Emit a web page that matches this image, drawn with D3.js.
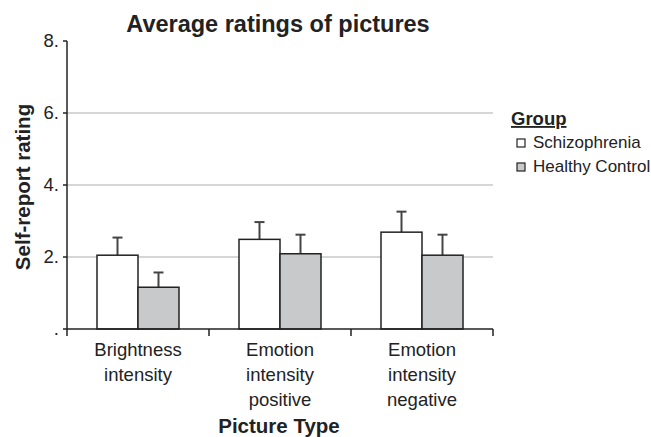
<!DOCTYPE html>
<html>
<head>
<meta charset="utf-8">
<script src="https://cdn.jsdelivr.net/npm/d3@7"></script>
<style>
  body { margin: 0; background: #fff; }
  text { font-family: "Liberation Sans", Arial, sans-serif; fill: #222; }
</style>
</head>
<body>
<svg width="651" height="437"></svg>
<script>
var categories = [['Brightness', 'intensity'], ['Emotion', 'intensity', 'positive'], ['Emotion', 'intensity', 'negative']];
var groups = ['Schizophrenia', 'Healthy Control'];
var schizMeans = [2.05, 2.49, 2.69];
var schizErr = [0.49, 0.48, 0.57];
var controlMeans = [1.16, 2.09, 2.05];
var controlErr = [0.41, 0.53, 0.57];
var yTicks = [0, 2, 4, 6, 8];
var tickLabels = ['.', '2.', '4.', '6.', '8.'];
var colors = ['#ffffff', '#c8c9cb'];

var svg = d3.select('svg');
var padding = { t: 41, l: 67, r: 158, b: 108 };
var chartWidth = +svg.attr('width') - padding.l - padding.r;
var chartHeight = +svg.attr('height') - padding.t - padding.b;

var chartG = svg.append('g')
    .attr('transform', 'translate(' + [padding.l, padding.t] + ')');

var xScale = d3.scaleBand()
    .domain(d3.range(categories.length))
    .range([0, chartWidth]);

var groupScale = d3.scaleBand()
    .domain(d3.range(groups.length))
    .range([0, 82])
    .padding(0);

var yScale = d3.scaleLinear()
    .domain([0, 8])
    .range([chartHeight, 0]);

// gridlines
chartG.selectAll('.grid')
    .data(yTicks.filter(function(d) { return d > 0 && d < 8; }))
    .enter().append('line')
    .attr('x1', 0)
    .attr('x2', chartWidth)
    .attr('y1', function(d) { return yScale(d); })
    .attr('y2', function(d) { return yScale(d); })
    .attr('stroke', '#c8c8c8')
    .attr('stroke-width', 1.5);

// bars
var rows = categories.map(function(c, i) {
    return [
        { cat: i, g: 0, value: schizMeans[i], err: schizErr[i] },
        { cat: i, g: 1, value: controlMeans[i], err: controlErr[i] }
    ];
});
var flat = [].concat.apply([], rows);
var offset = (xScale.bandwidth() - 82) / 2;

var barG = chartG.selectAll('.bar')
    .data(flat)
    .enter().append('g')
    .attr('class', 'bar');

function cx(d) { return xScale(d.cat) + offset + groupScale(d.g) + groupScale.bandwidth() / 2; }

// error bars first so the bar outline sits on top
barG.append('line')
    .attr('x1', cx)
    .attr('x2', cx)
    .attr('y1', function(d) { return yScale(d.value); })
    .attr('y2', function(d) { return yScale(d.value + d.err); })
    .attr('stroke', '#444')
    .attr('stroke-width', 2);

barG.append('line')
    .attr('x1', function(d) { return cx(d) - 5; })
    .attr('x2', function(d) { return cx(d) + 5; })
    .attr('y1', function(d) { return yScale(d.value + d.err); })
    .attr('y2', function(d) { return yScale(d.value + d.err); })
    .attr('stroke', '#444')
    .attr('stroke-width', 2);

barG.append('rect')
    .attr('x', function(d) { return xScale(d.cat) + offset + groupScale(d.g); })
    .attr('y', function(d) { return yScale(d.value); })
    .attr('width', groupScale.bandwidth())
    .attr('height', function(d) { return chartHeight - yScale(d.value); })
    .attr('fill', function(d) { return colors[d.g]; })
    .attr('stroke', '#222')
    .attr('stroke-width', 1.5);

// y axis
chartG.append('line')
    .attr('x1', 0).attr('x2', 0)
    .attr('y1', 0).attr('y2', chartHeight)
    .attr('stroke', '#222').attr('stroke-width', 1.5);

chartG.selectAll('.ytick')
    .data(yTicks)
    .enter().append('line')
    .attr('x1', -4).attr('x2', 0)
    .attr('y1', function(d) { return yScale(d); })
    .attr('y2', function(d) { return yScale(d); })
    .attr('stroke', '#222').attr('stroke-width', 1.5);

chartG.selectAll('.ylabel')
    .data(yTicks)
    .enter().append('text')
    .attr('x', -8)
    .attr('y', function(d) { return yScale(d) + 6; })
    .attr('text-anchor', 'end')
    .style('font-size', '18.5px')
    .text(function(d, i) { return tickLabels[i]; });

// x axis
chartG.append('line')
    .attr('x1', 0).attr('x2', chartWidth)
    .attr('y1', chartHeight).attr('y2', chartHeight)
    .attr('stroke', '#222').attr('stroke-width', 1.5);

chartG.selectAll('.xtick')
    .data(d3.range(categories.length + 1))
    .enter().append('line')
    .attr('x1', function(d) { return d * xScale.step(); })
    .attr('x2', function(d) { return d * xScale.step(); })
    .attr('y1', chartHeight)
    .attr('y2', chartHeight + 7)
    .attr('stroke', '#222').attr('stroke-width', 1.5);

var catLabels = chartG.selectAll('.xlabel')
    .data(categories)
    .enter().append('text')
    .attr('text-anchor', 'middle')
    .style('font-size', '18.5px')
    .attr('transform', function(d, i) {
        return 'translate(' + (xScale(i) + xScale.bandwidth() / 2) + ',' + (chartHeight + 27) + ')';
    });

catLabels.selectAll('tspan')
    .data(function(d) { return d; })
    .enter().append('tspan')
    .attr('x', 0)
    .attr('y', function(d, i) { return i * 25; })
    .text(function(d) { return d; });

// titles
svg.append('text')
    .attr('x', 278)
    .attr('y', 32)
    .attr('text-anchor', 'middle')
    .style('font-size', '23.5px')
    .style('font-weight', 'bold')
    .text('Average ratings of pictures');

svg.append('text')
    .attr('x', 279)
    .attr('y', 433)
    .attr('text-anchor', 'middle')
    .style('font-size', '20.5px')
    .style('font-weight', 'bold')
    .text('Picture Type');

svg.append('text')
    .attr('transform', 'translate(30,187) rotate(-90)')
    .attr('text-anchor', 'middle')
    .style('font-size', '20.5px')
    .style('font-weight', 'bold')
    .text('Self-report rating');

// legend
var legendG = svg.append('g')
    .attr('transform', 'translate(511,0)');

legendG.append('text')
    .attr('x', 0).attr('y', 125)
    .style('font-size', '18.5px')
    .style('font-weight', 'bold')
    .style('text-decoration', 'underline')
    .text('Group');

var items = legendG.selectAll('.item')
    .data(groups)
    .enter().append('g')
    .attr('transform', function(d, i) { return 'translate(0,' + (148 + i * 24) + ')'; });

items.append('rect')
    .attr('x', 6).attr('y', -9)
    .attr('width', 8).attr('height', 8)
    .attr('fill', function(d, i) { return colors[i]; })
    .attr('stroke', '#222')
    .attr('stroke-width', 1.2);

items.append('text')
    .attr('x', 22).attr('y', 0)
    .style('font-size', '17px')
    .text(function(d) { return d; });
</script>
</body>
</html>
